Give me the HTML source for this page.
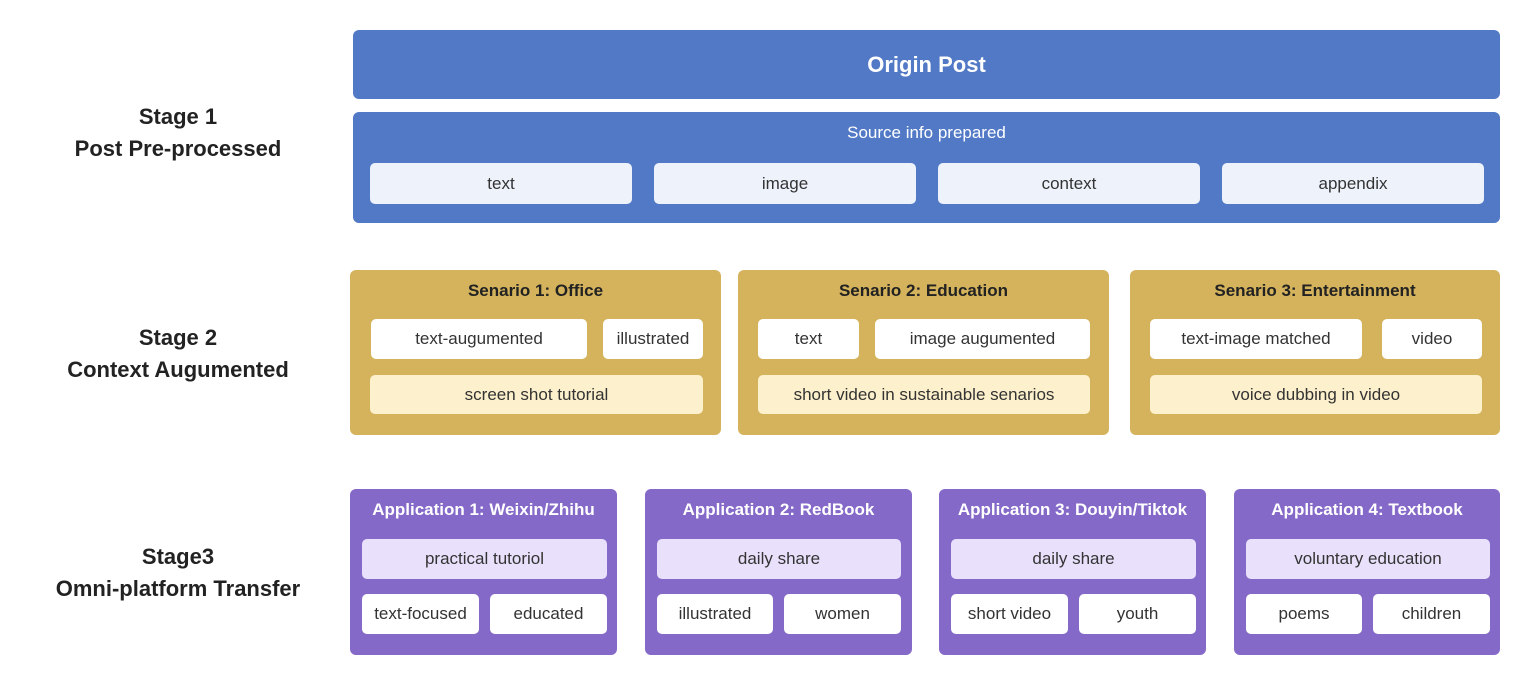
<!DOCTYPE html>
<html><head><meta charset="utf-8"><style>
body{margin:0;width:1527px;height:686px;background:#fff;position:relative;font-family:"Liberation Sans",sans-serif;overflow:hidden}
div{position:absolute;box-sizing:border-box}
.c{display:flex;align-items:center;justify-content:center;text-align:center}
.st{font-weight:bold;font-size:22px;color:#222;width:300px;left:28px;line-height:32px;text-align:center}
.b{background:#5179c6;border-radius:6px}
.g{background:#d4b35c;border-radius:6px}
.p{background:#8469c8;border-radius:6px}
.w{background:#fff;border-radius:5px;font-size:17px;color:#333}
.lb{background:#eef2fb;border-radius:5px;font-size:17px;color:#333}
.ly{background:#fdf0cc;border-radius:5px;font-size:17px;color:#333}
.lp{background:#e9e1fc;border-radius:5px;font-size:17px;color:#333}
.t{font-weight:bold;font-size:17px;height:24px}
</style></head><body>
<div class="st" style="top:101px">Stage 1<br>Post Pre-processed</div>
<div class="st" style="top:322px">Stage 2<br>Context Augumented</div>
<div class="st" style="top:541px">Stage3<br>Omni-platform Transfer</div>

<div class="b c" style="left:353px;top:30px;width:1147px;height:69px;color:#fff;font-weight:bold;font-size:22px">Origin Post</div>
<div class="b" style="left:353px;top:112px;width:1147px;height:111px"></div>
<div class="c" style="left:353px;top:121px;width:1147px;height:24px;color:#fff;font-size:17px">Source info prepared</div>
<div class="lb c" style="left:370px;top:163px;width:262px;height:41px">text</div>
<div class="lb c" style="left:654px;top:163px;width:262px;height:41px">image</div>
<div class="lb c" style="left:938px;top:163px;width:262px;height:41px">context</div>
<div class="lb c" style="left:1222px;top:163px;width:262px;height:41px">appendix</div>

<div class="g" style="left:350px;top:270px;width:371px;height:165px"></div>
<div class="c t" style="left:350px;top:279px;width:371px;color:#222">Senario 1: Office</div>
<div class="w c" style="left:371px;top:319px;width:216px;height:40px">text-augumented</div>
<div class="w c" style="left:603px;top:319px;width:100px;height:40px">illustrated</div>
<div class="ly c" style="left:370px;top:375px;width:333px;height:39px">screen shot tutorial</div>

<div class="g" style="left:738px;top:270px;width:371px;height:165px"></div>
<div class="c t" style="left:738px;top:279px;width:371px;color:#222">Senario 2: Education</div>
<div class="w c" style="left:758px;top:319px;width:101px;height:40px">text</div>
<div class="w c" style="left:875px;top:319px;width:215px;height:40px">image augumented</div>
<div class="ly c" style="left:758px;top:375px;width:332px;height:39px">short video in sustainable senarios</div>

<div class="g" style="left:1130px;top:270px;width:370px;height:165px"></div>
<div class="c t" style="left:1130px;top:279px;width:370px;color:#222">Senario 3: Entertainment</div>
<div class="w c" style="left:1150px;top:319px;width:212px;height:40px">text-image matched</div>
<div class="w c" style="left:1382px;top:319px;width:100px;height:40px">video</div>
<div class="ly c" style="left:1150px;top:375px;width:332px;height:39px">voice dubbing in video</div>

<div class="p" style="left:350px;top:489px;width:267px;height:166px"></div>
<div class="c t" style="left:350px;top:498px;width:267px;color:#fff">Application 1: Weixin/Zhihu</div>
<div class="lp c" style="left:362px;top:539px;width:245px;height:40px">practical tutoriol</div>
<div class="w c" style="left:362px;top:594px;width:117px;height:40px">text-focused</div>
<div class="w c" style="left:490px;top:594px;width:117px;height:40px">educated</div>

<div class="p" style="left:645px;top:489px;width:267px;height:166px"></div>
<div class="c t" style="left:645px;top:498px;width:267px;color:#fff">Application 2: RedBook</div>
<div class="lp c" style="left:657px;top:539px;width:244px;height:40px">daily share</div>
<div class="w c" style="left:657px;top:594px;width:116px;height:40px">illustrated</div>
<div class="w c" style="left:784px;top:594px;width:117px;height:40px">women</div>

<div class="p" style="left:939px;top:489px;width:267px;height:166px"></div>
<div class="c t" style="left:939px;top:498px;width:267px;color:#fff">Application 3: Douyin/Tiktok</div>
<div class="lp c" style="left:951px;top:539px;width:245px;height:40px">daily share</div>
<div class="w c" style="left:951px;top:594px;width:117px;height:40px">short video</div>
<div class="w c" style="left:1079px;top:594px;width:117px;height:40px">youth</div>

<div class="p" style="left:1234px;top:489px;width:266px;height:166px"></div>
<div class="c t" style="left:1234px;top:498px;width:266px;color:#fff">Application 4: Textbook</div>
<div class="lp c" style="left:1246px;top:539px;width:244px;height:40px">voluntary education</div>
<div class="w c" style="left:1246px;top:594px;width:116px;height:40px">poems</div>
<div class="w c" style="left:1373px;top:594px;width:117px;height:40px">children</div>
</body></html>
